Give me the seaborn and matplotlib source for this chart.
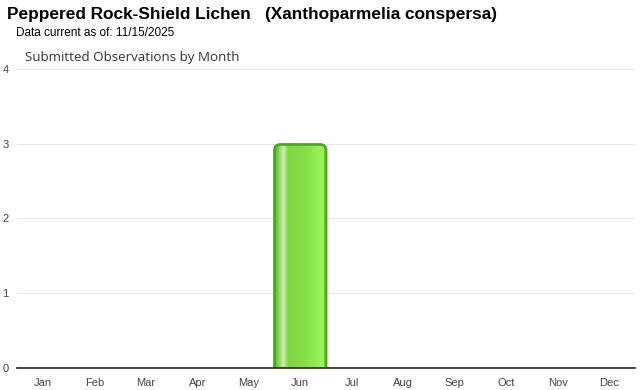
import numpy as np
import pandas as pd
import seaborn as sns
import matplotlib
matplotlib.use("Agg")
import matplotlib.pyplot as plt
from matplotlib.patches import FancyBboxPatch
from matplotlib.colors import LinearSegmentedColormap

months = ["Jan", "Feb", "Mar", "Apr", "May", "Jun", "Jul", "Aug", "Sep", "Oct", "Nov", "Dec"]
counts = [0, 0, 0, 0, 0, 3, 0, 0, 0, 0, 0, 0]
yticks = [0, 1, 2, 3, 4]

sns.set_theme(style="white")
plt.rcParams['font.family'] = ['Liberation Sans', 'DejaVu Sans']

df = pd.DataFrame({"month": months, "count": counts})

fig = plt.figure(figsize=(6.4, 3.9), dpi=100)
ax = fig.add_axes([17/640, 1-368/390, (635-17)/640, (368-69)/390])

sns.barplot(data=df, x="month", y="count", ax=ax, color="#7ed840",
            width=1.0, edgecolor="none", linewidth=0, saturation=1)

ax.set_ylim(0, 4)
ax.set_xlim(-0.5, 11.5)
ax.set_yticks(yticks)
ax.set_yticklabels([str(t) for t in yticks], fontsize=8, color="#444444")
ax.tick_params(axis="y", length=0, pad=6)
ax.tick_params(axis="x", length=4, color="#cccccc", labelsize=8, labelcolor="#444444", pad=3, direction="out")
ax.set_xlabel("")
ax.set_ylabel("")
ax.grid(axis="y", color="#e6e6e6", linewidth=0.8)
ax.set_axisbelow(True)
for s in ["top", "right", "left"]:
    ax.spines[s].set_visible(False)
ax.spines["bottom"].set_color("#222222")
ax.spines["bottom"].set_linewidth(1.2)
ax.spines["bottom"].set_zorder(5)

cmap = LinearSegmentedColormap.from_list(
    "barg", [(0.0, "#5cb82a"), (0.08, "#8fd860"), (0.16, "#cdeeb5"), (0.26, "#7fd63f"),
             (0.6, "#86e048"), (0.92, "#9bf45c"), (1.0, "#7ad83a")])
grad = np.linspace(0, 1, 256).reshape(1, -1)

for p in list(ax.patches):
    h = p.get_height()
    if h <= 0:
        continue
    x0 = p.get_x()
    w = p.get_width()
    p.set_visible(False)
    xpx = (635-17) / 12.0
    ypx = (368-69) / 4.0
    r = 6.0 / xpx
    clip = FancyBboxPatch((x0 + r, 0 - 1), w - 2*r, h + 1 - r * xpx/ypx - 0.01,
                          boxstyle=f"round,pad={r}", mutation_aspect=xpx/ypx,
                          transform=ax.transData, facecolor="none",
                          edgecolor="#4caa18", linewidth=2.0, zorder=4, clip_on=True)
    ax.add_patch(clip)
    im = ax.imshow(grad, cmap=cmap, aspect="auto",
                   extent=(x0, x0 + w, 0, h), zorder=3, interpolation="bilinear")
    im.set_clip_path(clip)
ax.set_xlim(-0.5, 11.5)
ax.set_ylim(0, 4)

fig.text(7/640, 1-15/390, "Peppered Rock-Shield Lichen   (Xanthoparmelia conspersa)",
         fontsize=12.4, fontweight="bold", color="#000000", va="center", ha="left")
fig.text(16/640, 1-33/390, "Data current as of: 11/15/2025",
         fontsize=8.5, color="#000000", va="center", ha="left")
fig.text(25/640, 1-58/390, "Submitted Observations by Month",
         fontsize=9.6, color="#333333", va="center", ha="left", family=["Open Sans", "DejaVu Sans"])

fig.savefig("out.png", dpi=100)
